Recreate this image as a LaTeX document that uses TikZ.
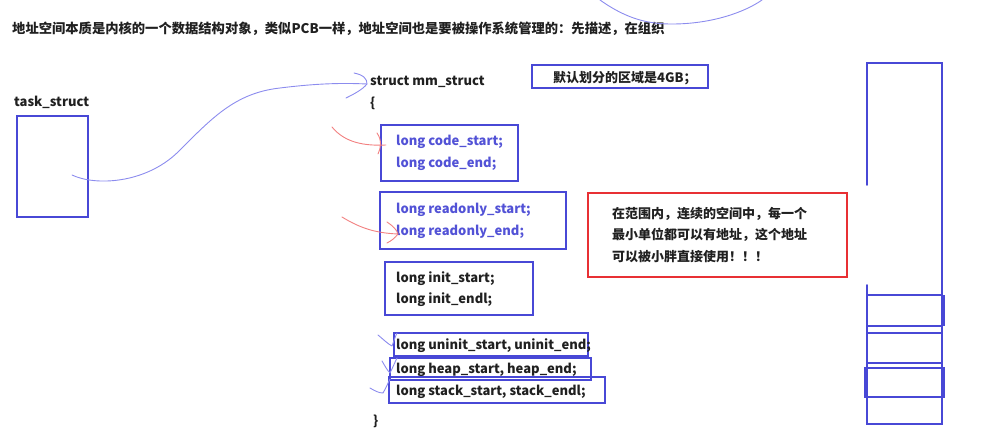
\documentclass[tikz,border=0pt]{standalone}
\usepackage{fontspec}
\setmainfont{Noto Sans CJK SC}
\definecolor{boxblue}{RGB}{72,72,214}
\definecolor{curveblue}{RGB}{140,140,238}
\definecolor{boxred}{RGB}{232,48,52}
\definecolor{markred}{RGB}{242,128,128}
\definecolor{txtdark}{RGB}{32,32,32}
\definecolor{codeblue}{RGB}{82,82,214}
\tikzset{
  bluebox/.style={draw=boxblue, line width=1.8pt, rectangle, inner sep=0pt, outer sep=0pt},
  redbox/.style={draw=boxred, line width=1.6pt, rectangle, inner sep=0pt, outer sep=0pt},
  txt/.style={anchor=west, inner sep=0pt, yshift=-1.5pt, text=txtdark, font=\fontsize{13}{15}\selectfont\bfseries},
  codetxt/.style={txt, text=codeblue},
  sketch/.style={draw=curveblue, line width=0.9pt, line cap=round, line join=round},
  redsketch/.style={draw=markred, line width=0.9pt, line cap=round, line join=round},
  column/.style={draw=boxblue, line width=1.6pt, line cap=round}
}
\begin{document}
\begin{tikzpicture}[x=1pt,y=-1pt]
\useasboundingbox (0,0) rectangle (985,428);
% title
\node[txt, font=\fontsize{13.3}{15}\selectfont\bfseries] (title) at (12,27) {地址空间本质是内核的一个数据结构对象，类似PCB一样，地址空间也是要被操作系统管理的：先描述，在组织};
% top sketch arc
\draw[sketch] (600,0) .. controls (628,20) and (650,24) .. (672,24) .. controls (712,24) and (745,12) .. (762,0);
% task_struct
\node[txt] (tasklbl) at (14,101) {task\_struct};
\node[bluebox, minimum width=71pt, minimum height=101pt] (task) at (52.5,166.5) {};
% mm_struct
\node[txt] (mm) at (370,80) {struct mm\_struct};
\node[txt] (lbrace) at (370,102) {\{};
\node[txt] (rbrace) at (373,420) {\}};
% 4GB box
\node[bluebox, minimum width=176pt, minimum height=23pt] (gbbox) at (620,76.5) {};
\node[txt] (gb) at (553,77) {默认划分的区域是4GB；};
% code boxes
\node[bluebox, minimum width=137pt, minimum height=56pt] (code) at (449.5,153) {};
\node[codetxt] (code1) at (396,140) {long code\_start;};
\node[codetxt] (code2) at (396,162) {long code\_end;};
\node[bluebox, minimum width=186pt, minimum height=57pt] (ro) at (473,220.5) {};
\node[codetxt] (ro1) at (396,208) {long readonly\_start;};
\node[codetxt] (ro2) at (396,230) {long readonly\_end;};
\node[bluebox, minimum width=148pt, minimum height=53pt] (init) at (459,288.5) {};
\node[txt] (init1) at (396,277) {long init\_start;};
\node[txt] (init2) at (396,298) {long init\_endl;};
\node[bluebox, minimum width=194pt, minimum height=23pt] (uninit) at (491,344.5) {};
\node[txt] (uninit1) at (396,344) {long uninit\_start, uninit\_end;};
\node[bluebox, minimum width=201pt, minimum height=22pt] (heap) at (490.5,369) {};
\node[txt] (heap1) at (396,368) {long heap\_start, heap\_end;};
\node[bluebox, minimum width=216pt, minimum height=26pt] (stack) at (497,390) {};
\node[txt] (stack1) at (396,390) {long stack\_start, stack\_endl;};
% red note
\node[redbox, minimum width=259pt, minimum height=84pt] (note) at (717.5,235) {};
\node[txt] (note1) at (612,212) {在范围内，连续的空间中，每一个};
\node[txt] (note2) at (612,233) {最小单位都可以有地址，这个地址};
\node[txt] (note3) at (612,255) {可以被小胖直接使用！！！};
% connector task -> mm_struct
\coordinate (tstart) at (72,175);
\coordinate (tip) at (367,84);
\draw[sketch] (tstart) .. controls (95,186) and (145,184) .. (178,152) .. controls (212,118) and (235,93) .. (280,88) .. controls (320,83) and (345,83) .. (tip);
\draw[sketch] (354,73) .. controls (364,75) and (367,79) .. (tip) .. controls (362,90) and (354,94) .. (346,98);
% red marks
\coordinate (r1) at (386,145);
\draw[redsketch] (332,127) .. controls (345,143) and (365,146) .. (r1);
\draw[redsketch] (377,133) .. controls (382,140) and (381,148) .. (378,154);
\coordinate (r2) at (398,234);
\draw[redsketch] (342,217) .. controls (360,228) and (375,233) .. (r2);
\draw[redsketch] (387,222) .. controls (393,226) and (397,230) .. (r2) .. controls (395,238) and (391,241) .. (387,243);
% blue checks
\draw[sketch] (378,335) .. controls (384,340) and (388,344) .. (392,346) .. controls (394,341) and (395,337) .. (397,333);
\draw[sketch] (382,361) .. controls (385,366) and (387,370) .. (390,373) .. controls (393,367) and (395,362) .. (397,358);
\draw[sketch] (370,388) .. controls (375,391) and (379,393) .. (383,393) .. controls (386,388) and (388,383) .. (390,379);
% right column
\draw[column] (867,185) -- (867,63) -- (942,63) -- (942,424) -- (867,424) -- (867,285);
\draw[column] (867,295) rectangle (942,326);
\draw[draw=boxblue, line width=2.4pt] (944,295) -- (944,326);
\draw[column] (867,333) -- (942,333);
\draw[column] (867,363) -- (942,363);
\draw[column] (865,368) rectangle (944,397);
\end{tikzpicture}
\end{document}
